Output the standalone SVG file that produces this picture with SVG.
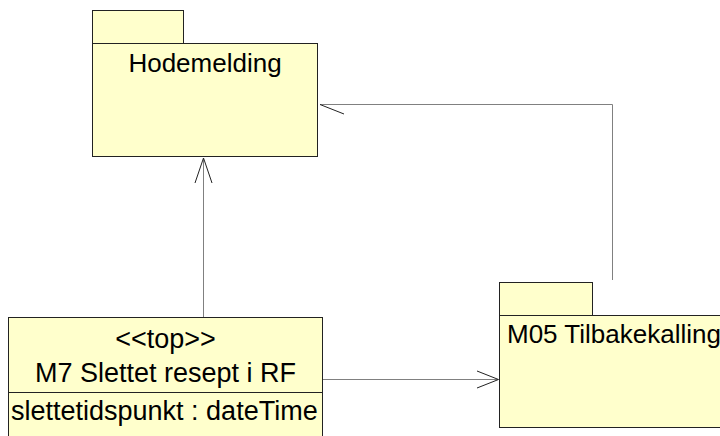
<svg xmlns="http://www.w3.org/2000/svg" width="720" height="436" viewBox="0 0 720 436">
  <style>
    .box { fill: #FFFFCC; stroke: #222; stroke-width: 1; }
    .sep { stroke: #222; stroke-width: 1; fill: none; }
    .conn { fill: none; stroke: #808080; stroke-width: 1; }
    .head { fill: none; stroke: #222; stroke-width: 1; }
    text { font-family: "Liberation Sans", Arial, sans-serif; font-size: 26px; fill: #000; }
    .big { font-size: 27px; }
  </style>
  <rect width="720" height="436" fill="#FFFFFF"/>
  <g id="connectors">
    <path class="conn" d="M203.5,317 L203.5,158"/>
    <path class="head" d="M195,183 L203.5,158 L212,183"/>
    <path class="conn" d="M612.5,280 L612.5,104.5 L320,104.5"/>
    <path class="head" d="M344,114 L320,104.5"/>
    <path class="conn" d="M323,379.5 L498,379.5"/>
    <path class="head" d="M477,371 L498.5,379.5 L477,388"/>
  </g>
  <g id="hodemelding">
    <rect class="box" x="92.5" y="10.5" width="91" height="33"/>
    <rect class="box" x="92.5" y="43.5" width="225" height="113"/>
    <text x="205" y="72" text-anchor="middle">Hodemelding</text>
  </g>
  <g id="m05">
    <rect class="box" x="499.5" y="282.5" width="93" height="33"/>
    <rect class="box" x="499.5" y="315.5" width="240" height="112"/>
    <text x="507" y="343">M05 Tilbakekalling</text>
  </g>
  <g id="m7">
    <rect class="box" x="8.5" y="317.5" width="314" height="130"/>
    <line class="sep" x1="8.5" y1="392.5" x2="322.5" y2="392.5"/>
    <text class="big" x="165.5" y="348" text-anchor="middle">&lt;&lt;top&gt;&gt;</text>
    <text class="big" x="165.5" y="382" text-anchor="middle">M7 Slettet resept i RF</text>
    <text class="big" x="11" y="420">slettetidspunkt : dateTime</text>
  </g>
</svg>
